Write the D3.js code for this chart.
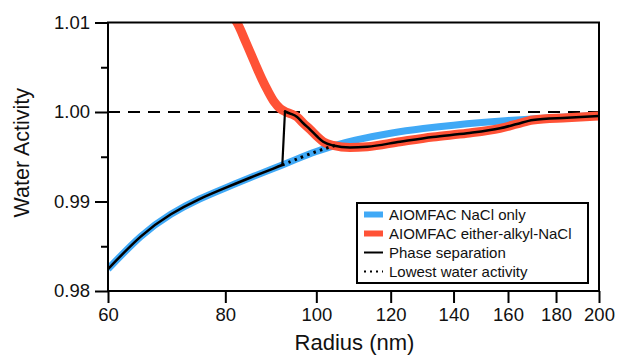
<!DOCTYPE html>
<html>
<head>
<meta charset="utf-8">
<script src="https://cdn.jsdelivr.net/npm/d3@7"></script>
<style>
  html, body { margin: 0; padding: 0; background: #fff; }
  svg { display: block; font-family: "Liberation Sans", Arial, Helvetica, sans-serif; }
</style>
</head>
<body>
<svg id="chart" width="619" height="357"></svg>
<script>
// Radius grid (nm) and water activity for the NaCl-only AIOMFAC model
const naclRadius = [60, 65, 70, 75, 80, 85, 90, 92, 95, 100, 105, 110, 120, 130, 140, 150, 160, 170, 180, 190, 200];
const naclActivity = [0.98245, 0.98608, 0.98857, 0.99025, 0.99152, 0.99265, 0.99368, 0.99408, 0.99468, 0.99558, 0.99630, 0.99686, 0.99763, 0.99815, 0.99853, 0.99882, 0.99905, 0.99923, 0.99938, 0.9995, 0.9996];

// Ether-alkyl + NaCl AIOMFAC model
const etherRadius = [81.7, 82.3, 84.2, 86.0, 87.5, 88.8, 90.2, 91.5, 92.6, 93.8, 95.4, 96.8, 98.5, 100.2, 101.7, 104.2, 108.6, 113.3, 122.8, 133.1, 144.7, 156.9, 163.6, 170.1, 184.9, 200];
const etherActivity = [1.0105, 1.0100, 1.00771, 1.00547, 1.00369, 1.00235, 1.00112, 1.00039, 1.00006, 0.99983, 0.99944, 0.99877, 0.99804, 0.99726, 0.99668, 0.99626, 0.99603, 0.99612, 0.99668, 0.99721, 0.99762, 0.99818, 0.99866, 0.99911, 0.99936, 0.99955];

// Radii bracketing the jump onto the phase-separated branch
const separationRadius = [92, 92.6];
// Extent of the lowest-water-activity path along the NaCl branch
const lowestRange = [92, 105];

const xTicks = [60, 80, 100, 120, 140, 160, 180, 200];
const yTicks = [0.98, 0.99, 1.00, 1.01];
const yMinorTicks = [0.985, 0.995, 1.005];

const legendLabels = ["AIOMFAC NaCl only", "AIOMFAC either-alkyl-NaCl", "Phase separation", "Lowest water activity"];

const blue = "#40a9f6";
const red = "#ff5236";

const plotL = 108, plotR = 599, plotT = 22.5, plotB = 291;

const svg = d3.select("#chart");
const x = d3.scaleLog().domain([60, 200]).range([plotL, plotR]);
const y = d3.scaleLinear().domain([0.98, 1.01]).range([plotB, plotT]);

const nacl = naclRadius.map((r, i) => ({ r, a: naclActivity[i] }));
const ether = etherRadius.map((r, i) => ({ r, a: etherActivity[i] }));
const phaseLow = nacl.filter(d => d.r <= separationRadius[0]);
const phaseHigh = ether.filter(d => d.r >= separationRadius[1]);
const phaseJump = [phaseLow[phaseLow.length - 1], phaseHigh[0]];
const lowest = nacl.filter(d => d.r >= lowestRange[0] && d.r <= lowestRange[1]);

svg.append("defs").append("clipPath").attr("id", "plot-clip")
  .append("rect").attr("x", plotL).attr("y", plotT).attr("width", plotR - plotL).attr("height", plotB - plotT);

const smooth = d3.line().x(d => x(d.r)).y(d => y(d.a)).curve(d3.curveNatural);
const mono = d3.line().x(d => x(d.r)).y(d => y(d.a)).curve(d3.curveMonotoneX);
const straight = d3.line().x(d => x(d.r)).y(d => y(d.a));
const plot = svg.append("g").attr("clip-path", "url(#plot-clip)");

// reference line at a_w = 1
plot.append("line")
  .attr("x1", plotL).attr("x2", plotR).attr("y1", y(1)).attr("y2", y(1))
  .attr("stroke", "#000").attr("stroke-width", 2).attr("stroke-dasharray", "12,8");

plot.append("path").datum(nacl).attr("d", smooth)
  .attr("fill", "none").attr("stroke", blue).attr("stroke-width", 7);
plot.append("path").datum(ether).attr("d", mono)
  .attr("fill", "none").attr("stroke", red).attr("stroke-width", 9);

// phase separation path: NaCl branch, jump, then ether-alkyl branch
const phaseG = plot.append("g").attr("fill", "none").attr("stroke", "#000")
  .attr("stroke-width", 2.5).attr("stroke-linejoin", "round").attr("stroke-linecap", "round");
phaseG.append("path").datum(phaseLow).attr("d", smooth);
phaseG.append("path").datum(phaseJump).attr("d", straight).attr("stroke-width", 2.2);
phaseG.append("path").datum(phaseHigh).attr("d", mono);

plot.append("path").datum(lowest).attr("d", smooth)
  .attr("fill", "none").attr("stroke", "#000").attr("stroke-width", 3).attr("stroke-dasharray", "2.5,4.2");

// frame
svg.append("rect").attr("x", plotL).attr("y", plotT).attr("width", plotR - plotL).attr("height", plotB - plotT)
  .attr("fill", "none").attr("stroke", "#000").attr("stroke-width", 2);

// y axis
const yAxis = svg.append("g").attr("transform", `translate(${plotL},0)`)
  .call(d3.axisLeft(y).tickValues(yTicks).tickFormat(d3.format(".2f")).tickSize(13).tickPadding(5));
yAxis.select(".domain").remove();
yAxis.selectAll(".tick line").attr("stroke-width", 2);
yAxis.selectAll("text").attr("font-size", 18.5).attr("fill", "#111");
yAxis.attr("font-family", null);
svg.append("g").attr("transform", `translate(${plotL},0)`)
  .call(d3.axisLeft(y).tickValues(yMinorTicks).tickSize(7).tickFormat(""))
  .call(g => g.select(".domain").remove())
  .selectAll(".tick line").attr("stroke-width", 2);

// x axis
const xAxis = svg.append("g").attr("transform", `translate(0,${plotB})`)
  .call(d3.axisBottom(x).tickValues(xTicks).tickFormat(d3.format("d")).tickSize(12).tickPadding(5));
xAxis.select(".domain").remove();
xAxis.selectAll(".tick line").attr("stroke-width", 2);
xAxis.selectAll("text").attr("font-size", 18.5).attr("fill", "#111");
xAxis.attr("font-family", null);

// axis titles
svg.append("text").attr("x", (plotL + plotR) / 2 + 1).attr("y", 350)
  .attr("text-anchor", "middle").attr("font-size", 22).attr("fill", "#111").text("Radius (nm)");
svg.append("text").attr("transform", `translate(29,${(plotT + plotB) / 2 - 4}) rotate(-90)`)
  .attr("text-anchor", "middle").attr("font-size", 21.5).attr("fill", "#111").text("Water Activity");

// legend
const legend = svg.append("g");
legend.append("rect").attr("x", 357).attr("y", 203).attr("width", 231).attr("height", 80)
  .attr("fill", "#fff").attr("stroke", "#000").attr("stroke-width", 2);
const swatches = [
  { stroke: blue, width: 6, dash: null },
  { stroke: red, width: 6, dash: null },
  { stroke: "#000", width: 2, dash: null },
  { stroke: "#000", width: 2, dash: "2,4" }
];
legendLabels.forEach((label, i) => {
  const cy = 214.5 + i * 19;
  const s = swatches[i];
  legend.append("line").attr("x1", 364).attr("x2", 383).attr("y1", cy).attr("y2", cy)
    .attr("stroke", s.stroke).attr("stroke-width", s.width).attr("stroke-dasharray", s.dash);
  legend.append("text").attr("x", 389).attr("y", cy).attr("dy", "0.35em")
    .attr("font-size", 15).attr("fill", "#111").text(label);
});
</script>
</body>
</html>
